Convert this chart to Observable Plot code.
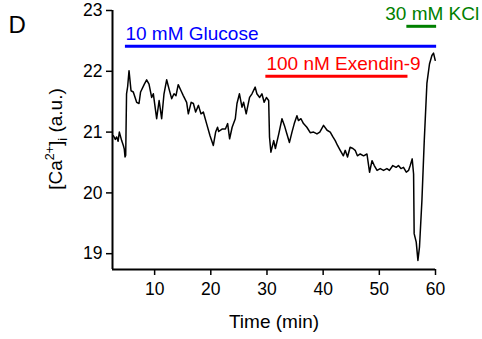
<!DOCTYPE html>
<html>
<head>
<meta charset="utf-8">
<script src="https://cdn.jsdelivr.net/npm/d3@7"></script>
<script src="https://cdn.jsdelivr.net/npm/@observablehq/plot@0.6"></script>
<style>
  html, body { margin: 0; padding: 0; background: #fff; }
  #chart { width: 482px; height: 339px; overflow: hidden; }
</style>
</head>
<body>
<div id="chart"></div>
<script>
const timeMin = [2.67, 3.0, 3.24, 3.5, 3.72, 4.13, 4.43, 4.6, 4.73, 4.85, 5.0, 5.2, 5.44, 5.8, 6.2, 6.8, 7.22, 7.5, 8.17, 8.58, 9.0, 9.47, 9.77, 10.36, 10.8, 11.25, 11.67, 12.14, 12.56, 13.03, 13.45, 13.8, 14.2, 14.7, 15.1, 15.7, 16.0, 16.5, 16.9, 17.3, 17.8, 18.25, 18.67, 19.25, 19.86, 20.45, 20.86, 21.2, 21.4, 22.0, 22.6, 23.0, 23.35, 23.8, 24.36, 24.66, 25.1, 25.55, 25.84, 26.3, 26.9, 27.33, 27.9, 28.2, 28.7, 29.1, 29.5, 29.9, 30.3, 30.45, 30.7, 31.2, 31.5, 32.1, 32.67, 33.1, 33.55, 34.0, 34.45, 34.86, 35.33, 35.6, 36.05, 36.5, 37.1, 37.7, 38.3, 38.9, 39.4, 40.07, 40.7, 41.26, 41.74, 42.15, 42.56, 43.04, 43.6, 43.93, 44.34, 44.8, 45.3, 45.7, 46.1, 46.6, 47.2, 47.8, 48.26, 48.7, 49.1, 49.6, 50.16, 50.75, 51.35, 51.8, 52.4, 53.0, 53.4, 53.85, 54.3, 54.8, 55.2, 55.5, 55.85, 56.1, 56.2, 56.57, 56.87, 57.15, 57.58, 58.0, 58.47, 58.93, 59.36, 59.65, 59.95];
const calcium = [20.94, 20.88, 20.92, 20.85, 21.0, 20.86, 20.78, 20.72, 20.59, 20.62, 21.63, 21.75, 22.01, 21.68, 21.66, 21.49, 21.47, 21.66, 21.79, 21.86, 21.79, 21.57, 21.63, 21.22, 21.52, 21.22, 21.63, 21.86, 21.71, 21.55, 21.63, 21.6, 21.78, 21.68, 21.6, 21.49, 21.3, 21.49, 21.47, 21.33, 21.44, 21.30, 21.33, 21.14, 20.94, 20.78, 21.0, 21.08, 21.01, 21.05, 21.05, 21.14, 20.89, 21.08, 21.22, 21.47, 21.63, 21.41, 21.49, 21.30, 21.57, 21.63, 21.74, 21.63, 21.57, 21.63, 21.49, 21.57, 21.52, 20.92, 20.67, 20.86, 20.73, 20.97, 21.22, 21.11, 20.97, 20.83, 21.0, 21.14, 21.27, 21.19, 21.22, 21.14, 21.08, 20.99, 21.0, 20.97, 21.0, 21.11, 21.03, 21.0, 20.92, 20.86, 20.78, 20.70, 20.61, 20.70, 20.59, 20.75, 20.73, 20.7, 20.61, 20.64, 20.61, 20.64, 20.34, 20.53, 20.45, 20.37, 20.40, 20.37, 20.40, 20.37, 20.45, 20.42, 20.45, 20.40, 20.42, 20.34, 20.37, 20.45, 20.56, 20.31, 19.33, 19.19, 18.89, 19.11, 19.87, 20.86, 21.8, 22.12, 22.26, 22.30, 22.18];

const xTicks = [10, 20, 30, 40, 50, 60];
const yTicks = [19, 20, 21, 22, 23];

const treatLabels = ["10 mM Glucose", "100 nM Exendin-9", "30 mM KCl"];
const treatStart = [4.8, 29.8, 54.9];
const treatEnd = [60.2, 55.1, 60.2];
const treatLevel = [22.41, 21.92, 22.74];
const treatLabelX = [4.8, 29.9, 51.05];
const treatColors = ["#0000ff", "#ff0000", "#008000"];

const trace = timeMin.map((t, i) => ({t, v: calcium[i]}));
const treatments = treatLabels.map((label, i) => ({
  label, x1: treatStart[i], x2: treatEnd[i], y: treatLevel[i], lx: treatLabelX[i], color: treatColors[i]
}));

const xMin = 2.5, yMin = 18.74;
const font = "Arial, 'Liberation Sans', sans-serif";

const plot = Plot.plot({
  width: 482,
  height: 339,
  marginLeft: 112,
  marginRight: 47,
  marginTop: 10,
  marginBottom: 70,
  style: {fontFamily: font, fontSize: "17px", background: "#fff", overflow: "visible"},
  x: {domain: [xMin, 60]},
  y: {domain: [yMin, 23]},
  marks: [
    Plot.axisX({ticks: xTicks, tickSize: 6, tickPadding: 7, tickFormat: d => String(d), label: null, fontSize: 17.5, strokeWidth: 1.5}),
    Plot.axisY({ticks: yTicks, tickSize: 6, tickPadding: 4, tickFormat: d => String(d), label: null, fontSize: 17.5, strokeWidth: 1.5}),
    Plot.ruleX([xMin], {stroke: "#000", strokeWidth: 2}),
    Plot.ruleY([yMin], {stroke: "#000", strokeWidth: 2}),
    Plot.line(trace, {x: "t", y: "v", stroke: "#000", strokeWidth: 1.5}),
    Plot.ruleY(treatments, {y: "y", x1: "x1", x2: "x2", stroke: "color", strokeWidth: 3}),
    Plot.text(treatments, {x: "lx", y: "y", text: "label", fill: "color", textAnchor: "start", lineAnchor: "bottom", dy: -6, fontSize: 19}),
    Plot.text(["D"], {frameAnchor: "top-left", text: d => d, dx: -104, dy: 22, lineAnchor: "bottom", textAnchor: "start", fontSize: 24}),
    Plot.text(["Time (min)"], {frameAnchor: "bottom", text: d => d, dy: 58, lineAnchor: "bottom", fontSize: 19})
  ]
});

const svg = d3.select(plot);
const yl = svg.append("text")
  .attr("transform", "translate(62,139) rotate(-90)")
  .attr("text-anchor", "middle")
  .attr("font-size", 19)
  .attr("font-family", font)
  .attr("fill", "#000");
yl.append("tspan").text("[Ca");
yl.append("tspan").attr("font-size", 12.5).attr("dy", -8).text("2+");
yl.append("tspan").attr("dy", 8).text("]");
yl.append("tspan").attr("font-size", 12.5).attr("dy", 5).text("i");
yl.append("tspan").attr("dy", -5).text(" (a.u.)");

document.getElementById("chart").appendChild(plot);
</script>
</body>
</html>
